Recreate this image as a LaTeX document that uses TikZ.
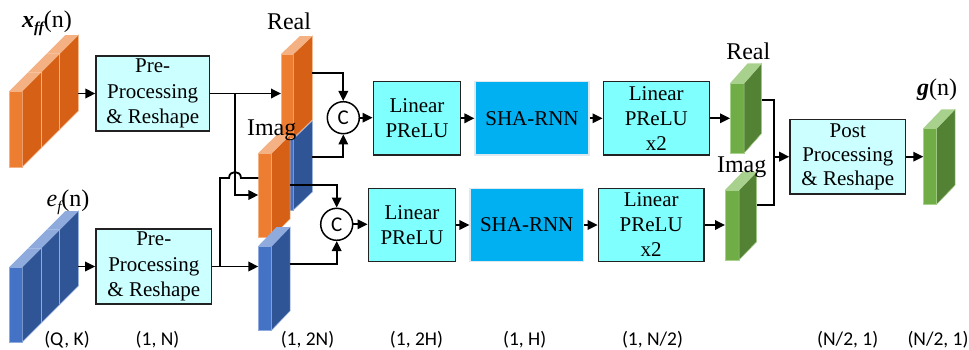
\documentclass[tikz,border=0pt]{standalone}
\usepackage{fontspec}
\setmainfont{Liberation Serif}
\newfontfamily\calib{Carlito}
\usetikzlibrary{arrows.meta}
\definecolor{orF}{HTML}{ED7D31}
\definecolor{orS}{HTML}{D66116}
\definecolor{orT}{HTML}{F4B183}
\definecolor{blF}{HTML}{4472C4}
\definecolor{blS}{HTML}{2F5597}
\definecolor{blT}{HTML}{8FAADC}
\definecolor{grF}{HTML}{70AD47}
\definecolor{grS}{HTML}{548235}
\definecolor{grT}{HTML}{A9D18E}
\definecolor{preC}{HTML}{CCFFFF}
\definecolor{linC}{HTML}{80FFFF}
\definecolor{shaC}{HTML}{00B0F0}
\definecolor{shaL}{HTML}{DDE8F0}
\definecolor{boxL}{HTML}{222222}
% slab: x y w h dx dy front side top
\newcommand\slabdraw[9]{%
  \fill[#7, draw=#9, line width=0.5pt] (#1,#2) rectangle ++(#3,#4);
  \fill[#8, draw=#9, line width=0.5pt] (#1+#3,#2) -- ++(#5,-#6) -- ++(0,#4) -- ++(-#5,#6) -- cycle;
  \fill[#9] (#1,#2) -- ++(#3,0) -- ++(#5,-#6) -- ++(-#3,0) -- cycle;
}
% dividers on a big slab at fraction f: x y w h dx dy f colour
\newcommand\slabdiv[8]{%
  \draw[#8, line width=0.7pt] (#1+#3+#7*#5,#2-#7*#6) -- ++(0,#4);
  \draw[#8!80!white, line width=0.7pt] (#1+#7*#5,#2-#7*#6) -- ++(#3,0);
}
\begin{document}
\begin{tikzpicture}[x=1pt,y=-1pt,
  box/.style={draw=boxL, line width=1.5pt, align=center, inner sep=0pt,
    font=\fontsize{21}{25.5}\selectfont},
  prebox/.style={box, fill=preC, minimum height=75pt},
  linbox/.style={box, fill=linC, minimum height=73.3pt},
  shabox/.style={box, fill=shaC, draw=shaL, line width=1.2pt, minimum height=73.3pt},
  conn/.style={line width=1.8pt},
  arr/.style={conn, -{Triangle[length=10pt,width=9.5pt]}},
  cat/.style={circle, draw=black, line width=1.5pt, fill=white, minimum size=32pt,
    inner sep=0pt, font=\calib\fontsize{21}{21}\selectfont},
  lbl/.style={anchor=base, inner sep=0pt, font=\fontsize{24}{28}\selectfont},
  dim/.style={anchor=base, inner sep=0pt, font=\calib\fontsize{19.5}{19.5}\selectfont}]
\useasboundingbox (0,0) rectangle (969,349);

% ---------- input stacks ----------
\slabdraw{9.3}{91}{13}{76}{56}{56}{orF}{orS}{orT}
\slabdiv{9.3}{91}{13}{76}{56}{56}{0.34}{orT}
\slabdiv{9.3}{91}{13}{76}{56}{56}{0.67}{orT}
\slabdraw{9.3}{267}{13}{75}{56}{56}{blF}{blS}{blT}
\slabdiv{9.3}{267}{13}{75}{56}{56}{0.34}{blT}
\slabdiv{9.3}{267}{13}{75}{56}{56}{0.67}{blT}

% ---------- middle slabs (1,2N) ----------
\slabdraw{281}{139}{12.3}{71}{19}{18}{blF}{blS}{blT}
\slabdraw{281}{54}{12.3}{84}{19}{18}{orF}{orS}{orT}
\slabdraw{258.3}{153}{13.4}{84}{18.3}{18}{orF}{orS}{orT}
\slabdraw{258.3}{246}{13.4}{84}{18.3}{19}{blF}{blS}{blT}

% ---------- output slabs ----------
\slabdraw{730}{83.3}{14}{70}{17.7}{20}{grF}{grS}{grT}
\slabdraw{725}{190}{14}{70}{17.7}{18.3}{grF}{grS}{grT}
\slabdraw{923.3}{128.3}{13.4}{76}{18.3}{19}{grF}{grS}{grT}

% ---------- boxes ----------
\node[prebox, minimum width=113.3pt] (pre1) at (152.7,93.5) {Pre-\\Processing\\\& Reshape};
\node[prebox, minimum width=115.7pt] (pre2) at (153.8,266.5) {Pre-\\Processing\\\& Reshape};

\node[cat] (c1) at (343.3,117.7) {C};
\node[cat] (c2) at (336.7,224.3) {C};

\node[linbox, minimum width=87.4pt] (lin1u) at (417,118.3) {Linear\\PReLU};
\node[shabox, minimum width=114pt] (shau) at (532,118.3) {SHA-RNN};
\node[linbox, minimum width=106pt, font=\fontsize{21}{25}\selectfont] (lin2u) at (656.3,118.3) {Linear\\PReLU\\x2};

\node[linbox, minimum width=87.4pt] (lin1d) at (412,225) {Linear\\PReLU};
\node[shabox, minimum width=113.3pt] (shad) at (526.7,225) {SHA-RNN};
\node[linbox, minimum width=105.7pt, font=\fontsize{21}{25}\selectfont] (lin2d) at (651.2,225) {Linear\\PReLU\\x2};

\node[box, fill=preC, minimum width=115.7pt, minimum height=74.7pt, font=\fontsize{21}{24}\selectfont] (post) at (847.8,156.7) {Post\\Processing\\\& Reshape};

% ---------- port coordinates ----------
\coordinate (xo) at (78,93.5);
\coordinate (eo) at (78,266.5);
\coordinate (realin) at (281,93.5);
\coordinate (j1) at (235,93.5);
\coordinate (omin) at (258.3,195);
\coordinate (bbin) at (258.3,266.5);
\coordinate (j2) at (220,266.5);
\coordinate (h1) at (229,178);
\coordinate (h2) at (241,178);
\coordinate (buin) at (258.3,178);
\coordinate (ro) at (312.3,72.7);
\coordinate (buo) at (312.3,157);
\coordinate (omo) at (289.7,185);
\coordinate (bbo) at (289.7,264);
\coordinate (gri) at (730,118.3);
\coordinate (gii) at (725,225);
\coordinate (gro) at (761.7,100);
\coordinate (gio) at (756.7,205);
\coordinate (jm) at (774.3,156.7);
\coordinate (gin) at (923.3,156.7);

% ---------- connectors ----------
\draw[arr] (xo) -- (pre1.west);
\draw[arr] (eo) -- (pre2.west);
\draw[arr] (pre1.east) -- (realin);
\draw[arr] (j1) |- (omin);
\draw[arr] (pre2.east) -- (bbin);
\draw[conn] (j2) |- (h1) .. controls (229,170) and (241,170) .. (h2) -- (buin);
\draw[arr] (ro) -| (c1.north);
\draw[arr] (buo) -| (c1.south);
\draw[arr] (omo) -| (c2.north);
\draw[arr] (bbo) -| (c2.south);
\draw[arr] (c1.east) -- (c1.east -| lin1u.west);
\draw[arr] (c2.east) -- (c2.east -| lin1d.west);
\draw[arr] (lin1u) -- (shau);
\draw[arr] (shau) -- (lin2u);
\draw[arr] (lin2u.east) -- (gri);
\draw[arr] (lin1d) -- (shad);
\draw[arr] (shad) -- (lin2d);
\draw[arr] (lin2d.east) -- (gii);
\draw[conn] (gro) -| (jm) |- (gio);
\draw[arr] (jm) -- (post.west);
\draw[arr] (post.east) -- (gin);

% ---------- labels ----------
\node[lbl] (lx) at (47,27) {{\bfseries\itshape x}\raisebox{-0.22em}{\fontsize{15}{15}\selectfont\bfseries\itshape ff}(n)};
\node[lbl] (le) at (68,206) {{\itshape e}\raisebox{-0.22em}{\fontsize{15}{15}\selectfont\itshape f}(n)};
\node[lbl] (lreal1) at (289,29) {Real};
\node[lbl] (limag1) at (271.7,135) {Imag};
\node[lbl] (lreal2) at (748.3,59.3) {Real};
\node[lbl] (limag2) at (741.7,172.7) {Imag};
\node[lbl] (lg) at (937,95) {{\bfseries\itshape g}(n)};

\node[dim] (d1) at (67,345) {(Q, K)};
\node[dim] (d2) at (157.5,345) {(1, N)};
\node[dim] (d3) at (307.5,345) {(1, 2N)};
\node[dim] (d4) at (416.5,345) {(1, 2H)};
\node[dim] (d5) at (524.7,345) {(1, H)};
\node[dim] (d6) at (652.5,345) {(1, N/2)};
\node[dim] (d7) at (847.7,345) {(N/2, 1)};
\node[dim] (d8) at (938,345) {(N/2, 1)};
\end{tikzpicture}
\end{document}
